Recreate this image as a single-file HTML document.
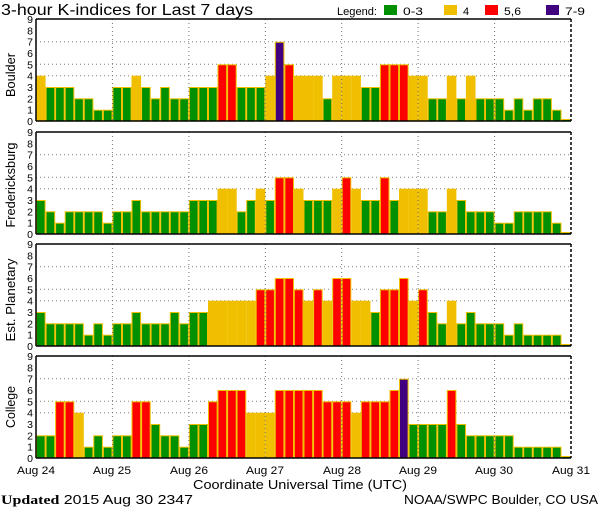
<!DOCTYPE html>
<html><head><meta charset="utf-8">
<style>
html,body{margin:0;padding:0;background:#fff;}
svg{display:block;font-family:"Liberation Sans",sans-serif;}
</style></head>
<body>
<svg id="s" width="600" height="510" viewBox="0 0 600 510" xmlns="http://www.w3.org/2000/svg">
<rect width="600" height="510" fill="#fff"/>
<text x="1" y="15" font-size="16" fill="#000" textLength="252" lengthAdjust="spacingAndGlyphs">3-hour K-indices for Last 7 days</text>
<text x="337" y="15" font-size="11" fill="#000" textLength="40" lengthAdjust="spacingAndGlyphs">Legend:</text>
<rect x="384" y="5" width="13" height="10" fill="#009000"/>
<text x="403" y="15" font-size="11" textLength="20" lengthAdjust="spacingAndGlyphs">0-3</text>
<rect x="444" y="5" width="13" height="10" fill="#f0c000"/>
<text x="463" y="15" font-size="11">4</text>
<rect x="485" y="5" width="13" height="10" fill="#ff0000"/>
<text x="504" y="15" font-size="11" textLength="17" lengthAdjust="spacingAndGlyphs">5,6</text>
<rect x="546" y="5" width="13" height="10" fill="#400080"/>
<text x="565" y="15" font-size="11" textLength="20" lengthAdjust="spacingAndGlyphs">7-9</text>
<g id="panels"></g>
<g font-size="12.5" text-anchor="middle">
<text transform="translate(15,75) rotate(-90)" textLength="44" lengthAdjust="spacingAndGlyphs">Boulder</text>
<text transform="translate(15,185) rotate(-90)" textLength="85" lengthAdjust="spacingAndGlyphs">Fredericksburg</text>
<text transform="translate(15,300) rotate(-90)" textLength="83" lengthAdjust="spacingAndGlyphs">Est. Planetary</text>
<text transform="translate(15,407) rotate(-90)" textLength="42" lengthAdjust="spacingAndGlyphs">College</text>
</g>
<g font-size="11" text-anchor="middle">
<text x="36" y="474" textLength="38" lengthAdjust="spacingAndGlyphs">Aug 24</text>
<text x="112" y="474" textLength="38" lengthAdjust="spacingAndGlyphs">Aug 25</text>
<text x="189" y="474" textLength="38" lengthAdjust="spacingAndGlyphs">Aug 26</text>
<text x="265" y="474" textLength="38" lengthAdjust="spacingAndGlyphs">Aug 27</text>
<text x="342" y="474" textLength="38" lengthAdjust="spacingAndGlyphs">Aug 28</text>
<text x="418" y="474" textLength="38" lengthAdjust="spacingAndGlyphs">Aug 29</text>
<text x="494" y="474" textLength="38" lengthAdjust="spacingAndGlyphs">Aug 30</text>
<text x="571" y="474" textLength="38" lengthAdjust="spacingAndGlyphs">Aug 31</text>
</g>
<text x="193" y="489" font-size="13" textLength="214" lengthAdjust="spacingAndGlyphs">Coordinate Universal Time (UTC)</text>
<text x="1" y="504" font-size="13" textLength="192" lengthAdjust="spacingAndGlyphs"><tspan font-family="Liberation Serif,serif" font-weight="bold">Updated</tspan> 2015 Aug 30 2347</text>
<text x="404" y="504" font-size="13" textLength="194" lengthAdjust="spacingAndGlyphs">NOAA/SWPC Boulder, CO USA</text>
</svg>
<script>
var data=[
[4,3,3,3,2,2,1,1, 3,3,4,3,2,3,2,2, 3,3,3,5,5,3,3,3, 4,7,5,4,4,4,2,4, 4,4,3,3,5,5,5,4, 4,2,2,4,2,4,2,2, 2,1,2,1,2,2,1,0],
[3,2,1,2,2,2,2,1, 2,2,3,2,2,2,2,2, 3,3,3,4,4,2,3,4, 3,5,5,4,3,3,3,4, 5,4,3,3,5,3,4,4, 4,2,2,4,3,2,2,2, 1,1,2,2,2,2,1,0],
[3,2,2,2,2,1,2,1, 2,2,3,2,2,2,3,2, 3,3,4,4,4,4,4,5, 5,6,6,5,4,5,4,6, 6,4,4,3,5,5,6,4, 5,3,2,4,2,3,2,2, 2,1,2,1,1,1,1,0],
[2,2,5,5,4,1,2,1, 2,2,5,5,3,2,2,1, 3,3,5,6,6,6,4,4, 4,6,6,6,6,6,5,5, 5,4,5,5,5,6,7,3, 3,3,3,6,3,2,2,2, 2,2,1,1,1,1,1,0]];
var tops=[19,132,244,356],L=36,R=571,H=102,u=H/9,bw=(R-L)/56;
var g="";
function col(v){return v<=3?"#009000":v==4?"#f0c000":v<=6?"#ff0000":"#400080";}
for(var p=0;p<4;p++){
 var t=tops[p],b=t+H;
 [4,5,7].forEach(function(k){var y=(b-k*u).toFixed(1);g+='<line x1="'+L+'" x2="'+R+'" y1="'+y+'" y2="'+y+'" stroke="#808080" stroke-dasharray="1,3"/>';});
 for(var i=0;i<56;i++){var v=data[p][i];var x=L+i*bw;var h=Math.max(v*u,2);
  g+='<rect x="'+(x+0.5).toFixed(1)+'" y="'+(b-h+0.5).toFixed(1)+'" width="'+(bw-1).toFixed(1)+'" height="'+(h-0.5).toFixed(1)+'" fill="'+col(v)+'" stroke="#f0c000" stroke-width="1"/>';}
 for(var d=1;d<7;d++){var x=(L+d*bw*8).toFixed(1);g+='<line x1="'+x+'" x2="'+x+'" y1="'+t+'" y2="'+b+'" stroke="#707070" stroke-dasharray="1,3"/>';}
 g+='<line x1="'+L+'" x2="'+R+'" y1="'+t+'" y2="'+t+'" stroke="#000" stroke-width="1.5"/>';
 g+='<line x1="'+L+'" x2="'+R+'" y1="'+b+'" y2="'+b+'" stroke="#000" stroke-width="1.5"/>';
 g+='<line x1="'+L+'" x2="'+L+'" y1="'+t+'" y2="'+b+'" stroke="#000" stroke-width="1.5"/>';
 g+='<line x1="'+R+'" x2="'+R+'" y1="'+t+'" y2="'+b+'" stroke="#000" stroke-width="1.5" stroke-dasharray="3,2"/>';
 for(var k=0;k<=9;k++){g+='<text x="33" y="'+(b-k*u+4).toFixed(1)+'" font-size="10.5" text-anchor="end">'+k+'</text>';}
}
document.getElementById("panels").innerHTML=g;
</script>
</body></html>
